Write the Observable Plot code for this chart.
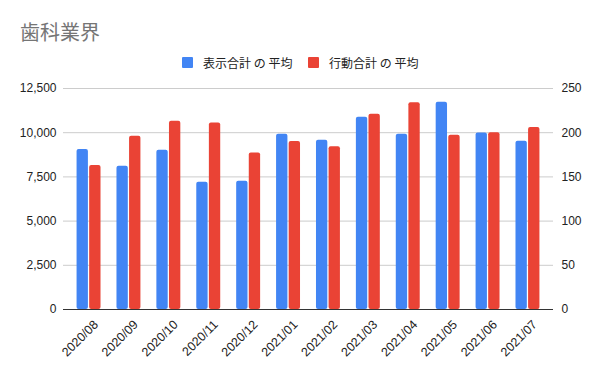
<!DOCTYPE html>
<html>
<head>
<meta charset="utf-8">
<script src="https://cdn.jsdelivr.net/npm/d3@7"></script>
<script src="https://cdn.jsdelivr.net/npm/@observablehq/plot@0.6"></script>
<style>
  body { margin: 0; background: #fff; }
  #wrap { position: relative; width: 600px; height: 371px; overflow: hidden; font-family: "Liberation Sans", Arial, "Noto Sans CJK JP", sans-serif; }
  #title { position: absolute; left: 20px; top: 21px; font-size: 20px; line-height: 22px; color: #757575; font-family: "Noto Sans CJK JP", sans-serif; }
  .leg { position: absolute; top: 54px; height: 16px; display: flex; align-items: center; font-size: 12px; color: #222; font-family: "Noto Sans CJK JP", sans-serif; white-space: pre; }
  .sw { width: 11px; height: 11px; margin-right: 10px; border-radius: 1px; }
  #chart { position: absolute; left: 0; top: 75px; }
</style>
</head>
<body>
<div id="wrap">
  <div id="title"></div>
  <div class="leg" id="leg1" style="left:182px"></div>
  <div class="leg" id="leg2" style="left:308px"></div>
  <div id="chart"></div>
</div>
<script>
const title = "歯科業界";
const seriesNames = ["表示合計 の 平均", "行動合計 の 平均"];
const seriesColors = ["#4285F4", "#EA4335"];
const months = ["2020/08","2020/09","2020/10","2020/11","2020/12","2021/01","2021/02","2021/03","2021/04","2021/05","2021/06","2021/07"];
const views = [9050, 8100, 9010, 7200, 7260, 9910, 9580, 10880, 9910, 11720, 9990, 9520];
const actions = [163, 196, 213, 211, 177, 190, 184, 221, 234, 197, 200, 206];
const leftTicks = [0, 2500, 5000, 7500, 10000, 12500];
const rightTicks = [0, 50, 100, 150, 200, 250];

document.getElementById("title").textContent = title;
["leg1","leg2"].forEach((id, i) => {
  const el = document.getElementById(id);
  const sw = document.createElement("span");
  sw.className = "sw"; sw.style.background = seriesColors[i];
  el.appendChild(sw);
  el.appendChild(document.createTextNode(seriesNames[i]));
});

const ratio = leftTicks[leftTicks.length - 1] / rightTicks[rightTicks.length - 1];
const rows = months.map((m, i) => ({month: m, views: views[i], actions: actions[i]}));

const chart = Plot.plot({
  width: 600,
  height: 296,
  marginTop: 13,
  marginBottom: 62,
  marginLeft: 63,
  marginRight: 47,
  style: {fontFamily: "'Liberation Sans', Arial, sans-serif", fontSize: "12px", color: "#222", background: "transparent"},
  x: {domain: months, paddingInner: 0.4, paddingOuter: 0.34, round: false, label: null},
  y: {domain: [0, leftTicks[leftTicks.length - 1]], label: null},
  marks: [
    Plot.ruleY(leftTicks.slice(1), {stroke: "#cccccc", strokeWidth: 1}),
    Plot.barY(rows, {x: "month", y: "views", fill: seriesColors[0], insetRight: 12.6, rx: 2}),
    Plot.barY(rows, {x: "month", y: d => d.actions * ratio, fill: seriesColors[1], insetLeft: 12.6, rx: 2}),
    Plot.ruleY([0], {stroke: "#333333", strokeWidth: 1}),
    Plot.axisY({anchor: "left", ticks: leftTicks, tickFormat: d3.format(","), tickSize: 0, tickPadding: 7, label: null}),
    Plot.axisY({anchor: "right", ticks: leftTicks, tickFormat: d => d / ratio, tickSize: 0, tickPadding: 8, label: null}),
    Plot.axisX({tickRotate: -45, tickSize: 0, tickPadding: 13, dx: 7, fontSize: 12.5, label: null})
  ]
});
document.getElementById("chart").appendChild(chart);
</script>
</body>
</html>
